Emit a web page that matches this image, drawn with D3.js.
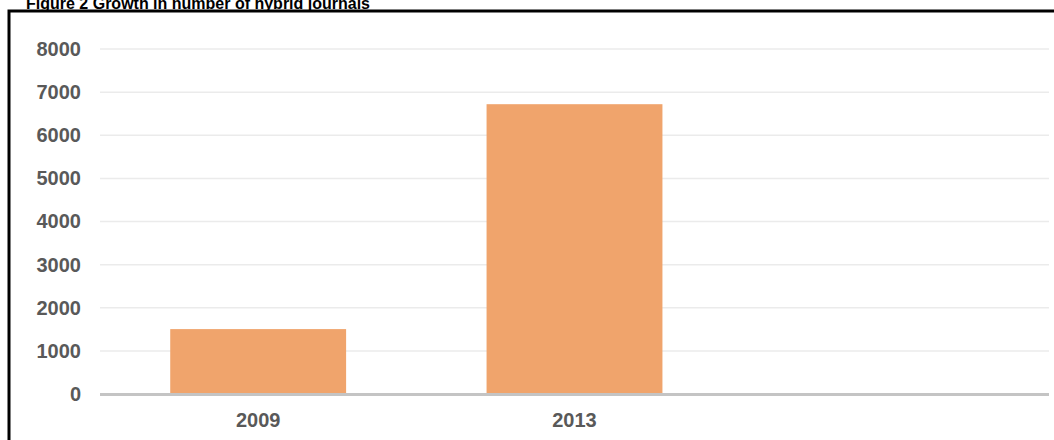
<!DOCTYPE html>
<html>
<head>
<meta charset="utf-8">
<script src="https://cdn.jsdelivr.net/npm/d3@7"></script>
<style>
  html, body { margin: 0; padding: 0; background: #fff; }
  svg { display: block; }
</style>
</head>
<body>
<div id="chart"></div>
<script>
const titleText = "Figure 2 Growth in number of hybrid journals";
const categories = ["2009", "2013", ""];
const values = [1505, 6720, null];
const yTicks = [0, 1000, 2000, 3000, 4000, 5000, 6000, 7000, 8000];

const W = 1054, H = 440;
const svg = d3.select("#chart").append("svg").attr("width", W).attr("height", H);
const font = "'Liberation Sans', Arial, sans-serif";

const margin = { left: 100, right: 5, top: 49, bottom: 46 };
const x = d3.scaleBand().domain(categories).range([margin.left, W - margin.right])
  .paddingInner(0.444).paddingOuter(0.222);
const y = d3.scaleLinear().domain([0, 8000]).range([H - margin.bottom, margin.top]);

// title
svg.append("text").attr("x", 26).attr("y", 9)
  .attr("font-family", font).attr("font-weight", "bold").attr("font-size", 16)
  .attr("fill", "#000").text(titleText);

// gridlines
svg.append("g").selectAll("line").data(yTicks.filter(d => d > 0)).join("line")
  .attr("x1", margin.left).attr("x2", W - margin.right)
  .attr("y1", d => y(d)).attr("y2", d => y(d))
  .attr("stroke", "#ebebeb").attr("stroke-width", 1.5);

// y axis labels
const yAxis = d3.axisLeft(y).tickValues(yTicks).tickFormat(d3.format("d")).tickSize(0).tickPadding(0);
const gy = svg.append("g").attr("transform", `translate(81,0)`).call(yAxis);
gy.select(".domain").remove();
gy.selectAll("text").attr("font-family", font).attr("font-weight", "bold")
  .attr("font-size", 20).attr("fill", "#595959");

// bars
svg.append("g").selectAll("rect").data(categories.map((c, i) => ({ c, v: values[i] })).filter(d => d.v != null))
  .join("rect")
  .attr("x", d => x(d.c)).attr("width", x.bandwidth())
  .attr("y", d => y(d.v)).attr("height", d => y(0) - y(d.v))
  .attr("fill", "#f0a46c");

// baseline
svg.append("line").attr("x1", margin.left).attr("x2", W - margin.right)
  .attr("y1", y(0) + 0.5).attr("y2", y(0) + 0.5)
  .attr("stroke", "#c4c4c4").attr("stroke-width", 3);

// x axis labels
const xAxis = d3.axisBottom(x).tickSize(0).tickPadding(0);
const gx = svg.append("g").attr("transform", `translate(0,${y(0) + 19})`).call(xAxis);
gx.select(".domain").remove();
gx.selectAll("text").attr("font-family", font).attr("font-weight", "bold")
  .attr("font-size", 20).attr("fill", "#595959").attr("dy", "0.71em");

// frame border (top and left)
svg.append("path").attr("d", `M9,${H} L9,11 L${W},11`)
  .attr("fill", "none").attr("stroke", "#000").attr("stroke-width", 3);
</script>
</body>
</html>
